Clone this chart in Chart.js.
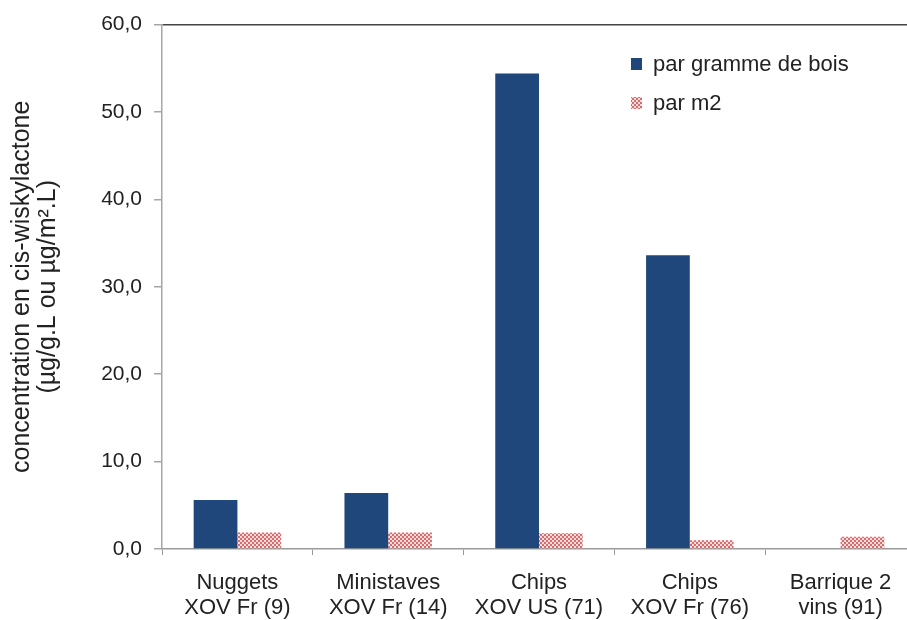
<!DOCTYPE html>
<html>
<head>
<meta charset="utf-8">
<script src="https://cdn.jsdelivr.net/npm/chart.js@4"></script>
<style>
    html, body { margin: 0; padding: 0; background: #fff; overflow: hidden; }
    #wrap { position: absolute; left: 0; top: 0; width: 920px; height: 620px; }
</style>
</head>
<body>
<div id="wrap"><canvas id="chart"></canvas></div>
<script>
// categories and series
const categories = [
    ['Nuggets', 'XOV Fr (9)'],
    ['Ministaves', 'XOV Fr (14)'],
    ['Chips', 'XOV US (71)'],
    ['Chips', 'XOV Fr (76)'],
    ['Barrique 2', 'vins (91)']
];
const seriesNames = ['par gramme de bois', 'par m2'];
const parGramme = [5.6, 6.4, 54.4, 33.6, null];
const parM2 = [1.9, 1.9, 1.8, 1.0, 1.4];
const yTicks = [0, 10, 20, 30, 40, 50, 60];
const yTitle = ['concentration en cis-wiskylactone', '(µg/g.L ou µg/m².L)'];

const FONT = "'Liberation Sans', Arial, sans-serif";

// small red checkerboard fill, like the Excel pattern
function makePattern() {
    const c = document.createElement('canvas');
    c.width = 4; c.height = 4;
    const g = c.getContext('2d');
    g.fillStyle = '#dc6a6a';
    g.fillRect(0, 0, 4, 4);
    g.fillStyle = '#f8dede';
    g.fillRect(0, 0, 2, 2);
    g.fillRect(2, 2, 2, 2);
    return g.createPattern(c, 'repeat');
}
const pinkPattern = makePattern();

// legend drawn inside the plot, top right
const insideLegend = {
    id: 'insideLegend',
    afterDraw(chart) {
        const ctx = chart.ctx;
        const rows = [64, 103];
        ctx.save();
        ctx.font = '22px ' + FONT;
        ctx.textBaseline = 'middle';
        chart.data.datasets.forEach((ds, i) => {
            ctx.fillStyle = ds.backgroundColor;
            ctx.fillRect(631, rows[i] - 6, 11, 12);
            ctx.fillStyle = '#222';
            ctx.fillText(ds.label, 653, rows[i] + 1);
        });
        ctx.restore();
    }
};

const ctx = document.getElementById('chart').getContext('2d');
new Chart(ctx, {
    type: 'bar',
    data: {
        labels: categories,
        datasets: [
            {
                label: seriesNames[0],
                data: parGramme,
                backgroundColor: '#1f477b',
                borderWidth: 0
            },
            {
                label: seriesNames[1],
                data: parM2,
                backgroundColor: pinkPattern,
                borderWidth: 0
            }
        ]
    },
    options: {
        responsive: true,
        maintainAspectRatio: false,
        animation: false,
        layout: { padding: { top: 24, right: 4, left: 0, bottom: 0 } },
        datasets: {
            bar: { categoryPercentage: 0.58, barPercentage: 1.0 }
        },
        plugins: {
            legend: { display: false },
            tooltip: { enabled: false }
        },
        scales: {
            x: {
                grid: {
                    offset: true,
                    drawOnChartArea: false,
                    tickLength: 6,
                    tickColor: '#9a9a9a'
                },
                border: { color: '#9a9a9a', width: 1.5 },
                ticks: {
                    color: '#222',
                    padding: 15,
                    maxRotation: 0,
                    autoSkip: false,
                    font: { family: FONT, size: 22, lineHeight: 1.14 }
                },
                afterFit(scale) { scale.height = 71; }
            },
            y: {
                min: 0,
                max: 60,
                afterBuildTicks(scale) {
                    scale.ticks = yTicks.map(v => ({ value: v }));
                },
                grid: {
                    color: c => (c.tick && c.tick.value === 60 ? '#444' : 'rgba(0,0,0,0)'),
                    lineWidth: 1.5,
                    tickLength: 8,
                    tickColor: '#a6a6a6'
                },
                border: { color: '#a6a6a6', width: 1.5 },
                ticks: {
                    color: '#222',
                    padding: 12,
                    font: { family: FONT, size: 21 },
                    callback: v => v.toFixed(1).replace('.', ',')
                },
                title: {
                    display: true,
                    text: yTitle,
                    color: '#222',
                    padding: { top: 9, bottom: 0 },
                    font: { family: FONT, size: 25, lineHeight: 1.04 }
                },
                afterFit(scale) { scale.width = 162; }
            }
        }
    },
    plugins: [insideLegend]
});
</script>
</body>
</html>
